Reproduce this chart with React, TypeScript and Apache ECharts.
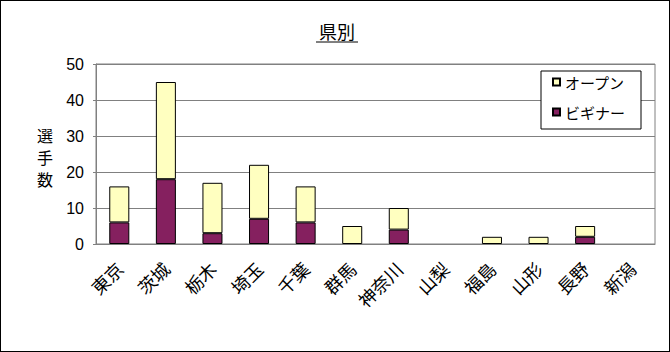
import React, { useEffect, useRef } from "react";
import * as echarts from "echarts";

const categories = ["東京", "茨城", "栃木", "埼玉", "千葉", "群馬", "神奈川", "山梨", "福島", "山形", "長野", "新潟"];
const beginner = [6, 18, 3, 7, 6, 0, 4, 0, 0, 0, 2, 0];
const open = [10, 27, 14, 15, 10, 5, 6, 0, 2, 2, 3, 0];
const yTicks = { min: 0, max: 50, interval: 10 };
const titleText = "県別";
const yName = "選手数";

const jp = '"Noto Sans CJK JP", "Noto Sans", sans-serif';
const num = '"Liberation Sans", Arial, sans-serif';

export default function App() {
  const ref = useRef<HTMLDivElement>(null);
  useEffect(() => {
    document.body.style.margin = "0";
    const chart = echarts.init(ref.current!, undefined, { renderer: "svg" });
    const nz = (a: number[]) => a.map((v) => (v === 0 ? null : v));
    chart.setOption({
      animation: false,
      backgroundColor: "#ffffff",
      grid: { left: 96, right: 15, top: 64, bottom: 108, show: true, borderColor: "#808080", borderWidth: 1, containLabel: false },
      legend: {
        data: ["オープン", "ビギナー"],
        orient: "vertical",
        left: 541,
        top: 71,
        padding: [3, 16, 9, 11],
        itemGap: 14,
        itemWidth: 7,
        itemHeight: 7,
        icon: "rect",
        borderColor: "#000000",
        borderWidth: 1,
        backgroundColor: "#ffffff",
        textStyle: { fontFamily: jp, fontSize: 15, color: "#000", lineHeight: 16 },
      },
      graphic: [
        {
          type: "text",
          x: 337,
          y: 31,
          style: { text: titleText, fontFamily: jp, fontSize: 18, fill: "#000", textAlign: "center", textVerticalAlign: "middle" },
        },
        { type: "line", shape: { x1: 316, y1: 42, x2: 358, y2: 42 }, style: { stroke: "#000", lineWidth: 1 } },
        ...yName.split("").map((ch, i) => ({
          type: "text",
          x: 45,
          y: 135 + i * 22,
          style: { text: ch, fontFamily: jp, fontSize: 16, lineHeight: 18, fill: "#000", textAlign: "center", textVerticalAlign: "middle" },
        })),
      ],
      xAxis: {
        type: "category",
        data: categories,
        axisLine: { lineStyle: { color: "#808080", width: 1 } },
        axisTick: { inside: true, length: 4, interval: 0, lineStyle: { color: "#808080" } },
        axisLabel: { rotate: 45, interval: 0, margin: 21, fontFamily: jp, fontSize: 18, color: "#000" },
      },
      yAxis: {
        type: "value",
        min: yTicks.min,
        max: yTicks.max,
        interval: yTicks.interval,
        axisLine: { show: true, lineStyle: { color: "#808080" } },
        axisTick: { show: true, length: 3, lineStyle: { color: "#808080" } },
        axisLabel: { fontFamily: num, fontSize: 16, color: "#000", margin: 12 },
        splitLine: { lineStyle: { color: "#808080", width: 1 } },
      },
      series: [
        {
          name: "ビギナー",
          type: "bar",
          stack: "t",
          data: nz(beginner),
          barWidth: "43%",
          itemStyle: { color: "#85205f", borderColor: "#000", borderWidth: 1 },
        },
        {
          name: "オープン",
          type: "bar",
          stack: "t",
          data: nz(open),
          barWidth: "43%",
          itemStyle: { color: "#ffffc0", borderColor: "#000", borderWidth: 1 },
        },
      ],
    });
    return () => chart.dispose();
  }, []);
  return (
    <div style={{ position: "relative", width: 670, height: 352 }}>
      <div ref={ref} style={{ width: 670, height: 352 }} />
      <div
        style={{
          position: "absolute",
          left: 0,
          top: 0,
          width: 670,
          height: 352,
          boxSizing: "border-box",
          border: "1px solid #000",
          pointerEvents: "none",
        }}
      />
    </div>
  );
}
